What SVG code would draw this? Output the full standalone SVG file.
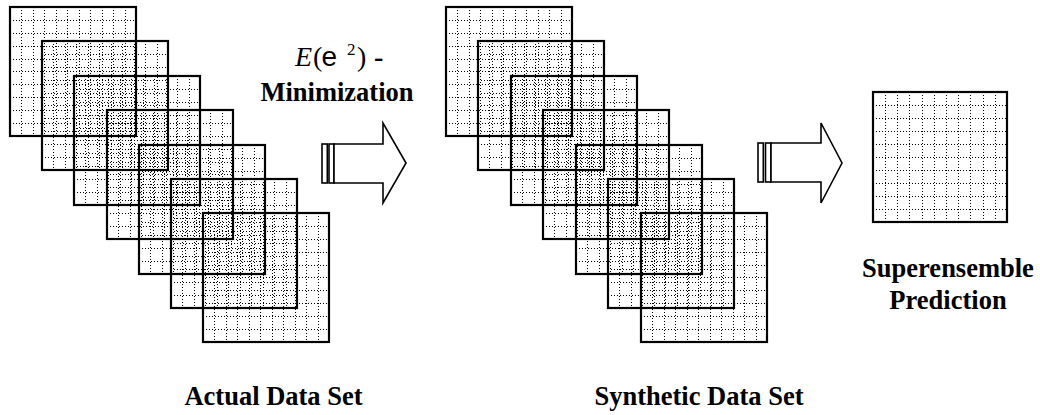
<svg xmlns="http://www.w3.org/2000/svg" xmlns:xlink="http://www.w3.org/1999/xlink" width="1040" height="415" viewBox="0 0 1040 415">
<style>
.grid{fill:none;stroke:#000;stroke-width:1;stroke-dasharray:1 2;shape-rendering:crispEdges}
.frame{fill:none;stroke:#000;stroke-width:2.2}
.arrow{fill:#fff;stroke:#000;stroke-width:1.6;stroke-linejoin:miter}
.lbl{font-family:'Liberation Serif','Times New Roman',serif;font-weight:700;font-size:26.5px;fill:#000;text-anchor:middle}
</style>
<defs>
<g id="sq">
<path class="grid" d="M11.5 0V129M23.5 0V129M34.5 0V129M46.5 0V129M57.5 0V129M69.5 0V129M80.5 0V129M92.5 0V129M103.5 0V129M115.5 0V129M0 13.5H126M0 26.5H126M0 39.5H126M0 52.5H126M0 64.5H126M0 77.5H126M0 90.5H126M0 103.5H126M0 116.5H126"/>
<rect class="frame" x="0" y="0" width="126" height="129"/>
</g>
<g id="sqbig">
<path class="grid" d="M12.5 0V130M24.5 0V130M36.5 0V130M49.5 0V130M61.5 0V130M73.5 0V130M85.5 0V130M97.5 0V130M110.5 0V130M122.5 0V130M0 13.5H134M0 26.5H134M0 39.5H134M0 52.5H134M0 65.5H134M0 78.5H134M0 91.5H134M0 104.5H134M0 117.5H134"/>
<rect class="frame" x="0" y="0" width="134" height="130"/>
</g>
</defs>
<g id="actual-set">
<g id="a1"><use xlink:href="#sq" transform="translate(10,7)"/></g>
<g id="a2"><use xlink:href="#sq" transform="translate(42,41)"/></g>
<g id="a3"><use xlink:href="#sq" transform="translate(74,76)"/></g>
<g id="a4"><use xlink:href="#sq" transform="translate(107,110)"/></g>
<g id="a5"><use xlink:href="#sq" transform="translate(139,145)"/></g>
<g id="a6"><use xlink:href="#sq" transform="translate(171,179)"/></g>
<g id="a7"><use xlink:href="#sq" transform="translate(203,213)"/></g>
<text class="lbl" font-family="Liberation Serif, serif" font-weight="bold" x="273.5" y="405">Actual Data Set</text>
</g>
<g id="synthetic-set">
<g id="s1"><use xlink:href="#sq" transform="translate(446,7)"/></g>
<g id="s2"><use xlink:href="#sq" transform="translate(478,41)"/></g>
<g id="s3"><use xlink:href="#sq" transform="translate(511,76)"/></g>
<g id="s4"><use xlink:href="#sq" transform="translate(543,110)"/></g>
<g id="s5"><use xlink:href="#sq" transform="translate(576,145)"/></g>
<g id="s6"><use xlink:href="#sq" transform="translate(608,179)"/></g>
<g id="s7"><use xlink:href="#sq" transform="translate(641,213)"/></g>
<text class="lbl" font-family="Liberation Serif, serif" font-weight="bold" x="699" y="405">Synthetic Data Set</text>
</g>
<g id="prediction">
<use xlink:href="#sqbig" transform="translate(873,92)"/>
<text class="lbl" font-family="Liberation Serif, serif" font-weight="bold" x="948" y="277">Superensemble</text>
<text class="lbl" font-family="Liberation Serif, serif" font-weight="bold" x="948" y="309">Prediction</text>
</g>
<g id="connectors">
<g id="arrow1">
<rect class="arrow" x="322" y="144" width="5.3" height="39"/>
<rect class="arrow" x="329" y="144" width="5" height="39"/>
<polygon class="arrow" points="334,144 383,144 383,123 406,163 383,203 383,183 334,183"/>
<text x="295" y="66" font-family="Liberation Serif, serif" font-size="28" fill="#000"><tspan font-style="italic">E</tspan><tspan x="313">(</tspan><tspan x="321.5" font-family="Liberation Sans, sans-serif">e</tspan><tspan x="347" y="55" font-size="17">2</tspan><tspan x="357" y="66">)</tspan><tspan x="374" font-weight="bold">-</tspan></text>
<text class="lbl" font-family="Liberation Serif, serif" font-weight="bold" font-size="26" x="337" y="101">Minimization</text>
</g>
<g id="arrow2">
<rect class="arrow" x="758" y="143" width="5.3" height="39"/>
<rect class="arrow" x="765.5" y="143" width="5.5" height="39"/>
<polygon class="arrow" points="771,143 821,143 821,123 842,163 821,203 821,182 771,182"/>
</g>
</g>
</svg>
